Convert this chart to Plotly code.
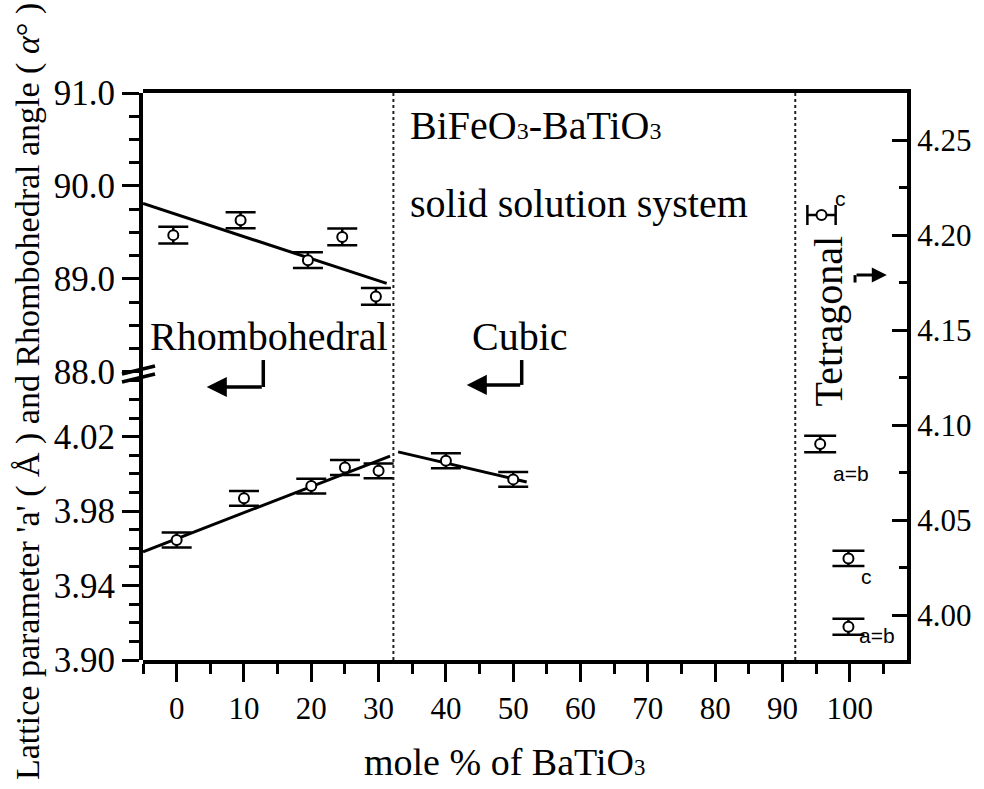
import plotly.graph_objects as go

SERIF = "Liberation Serif, Times New Roman, serif"
SANS = "Liberation Sans, Arial, sans-serif"

# ---- data ----
x_angle = [-0.5, 9.5, 19.5, 24.6, 29.6]
angle = [89.47, 89.63, 89.20, 89.45, 88.81]
angle_err = [0.09, 0.085, 0.085, 0.09, 0.09]

x_lat = [0, 10, 20, 25, 30, 40, 50]
lat = [3.9645, 3.9869, 3.9935, 4.0035, 4.0017, 4.0071, 3.9971]
lat_err = [0.004, 0.004, 0.004, 0.004, 0.004, 0.004, 0.004]

x_tet = [95.6, 99.8, 99.8]
tet = [4.090, 4.0298, 3.9938]
tet_err = [0.0044, 0.004, 0.0042]

x_tet_c = [95.8]
tet_c = [4.2105]
tet_c_xerr = [2.1]

fit_r_x = [-5, 31.2]
fit_r_y = [89.81, 88.95]
fit_a_x = [-5, 31.7]
fit_a_y = [3.9582, 4.0096]
fit_c_x = [32.9, 52.0]
fit_c_y = [4.0119, 3.9957]

phase_bounds = [32.2, 91.9]

x_ticks_major = 10

SUB3 = '<span style="font-size:60%">3</span>'

fig = go.Figure()

marker = dict(symbol="circle", size=10, color="white", line=dict(color="black", width=2))
ebar = dict(type="data", visible=True, color="black", thickness=2.5, width=15)

# fit lines
fig.add_trace(go.Scatter(x=fit_r_x, y=fit_r_y, mode="lines", line=dict(color="black", width=3),
                         xaxis="x", yaxis="y2"))
fig.add_trace(go.Scatter(x=fit_a_x, y=fit_a_y, mode="lines", line=dict(color="black", width=3),
                         xaxis="x", yaxis="y"))
fig.add_trace(go.Scatter(x=fit_c_x, y=fit_c_y, mode="lines", line=dict(color="black", width=3),
                         xaxis="x", yaxis="y"))

# data points
fig.add_trace(go.Scatter(x=x_angle, y=angle, mode="markers", marker=marker,
                         error_y=dict(ebar, array=angle_err), xaxis="x", yaxis="y2"))
fig.add_trace(go.Scatter(x=x_lat, y=lat, mode="markers", marker=marker,
                         error_y=dict(ebar, array=lat_err), xaxis="x", yaxis="y"))
fig.add_trace(go.Scatter(x=x_tet, y=tet, mode="markers", marker=marker,
                         error_y=dict(ebar, array=tet_err, width=16), xaxis="x", yaxis="y3"))
fig.add_trace(go.Scatter(x=x_tet_c, y=tet_c, mode="markers", marker=marker,
                         error_x=dict(ebar, array=tet_c_xerr, width=10), xaxis="x", yaxis="y3"))

# phase boundaries (dotted)
for xb in phase_bounds:
    fig.add_shape(type="line", xref="x", yref="paper", x0=xb, x1=xb, y0=0, y1=1,
                  line=dict(color="#222222", width=2, dash="dot"))

# axis break slashes on the left axis
for dy in (0.0, -0.0141):
    fig.add_shape(type="line", xref="paper", yref="paper",
                  x0=-0.0275, y0=0.5044 + dy, x1=0.0157, y1=0.5185 + dy,
                  line=dict(color="black", width=3.5))

# L-shaped arrows
for xv, xh, yt, yb in [(12.87, 4.46, 4.1342, 4.1200), (51.26, 43.09, 4.1342, 4.1211)]:
    fig.add_shape(type="line", xref="x", yref="y3", x0=xv, x1=xv, y0=yt, y1=yb,
                  line=dict(color="black", width=3.5))
    fig.add_annotation(x=xh, y=yb, xref="x", yref="y3", ax=xv, ay=yb, axref="x", ayref="y3",
                       showarrow=True, arrowhead=2, arrowwidth=3.5, arrowsize=1.15,
                       arrowcolor="black", text="")

# tetragonal arrow
fig.add_shape(type="line", xref="x", yref="y3", x0=100.78, x1=100.78, y0=4.1789, y1=4.1750,
              line=dict(color="black", width=3))
fig.add_annotation(x=105.5, y=4.1789, xref="x", yref="y3", ax=100.78, ay=4.1789, axref="x", ayref="y3",
                   showarrow=True, arrowhead=2, arrowwidth=3, arrowsize=1.0,
                   arrowcolor="black", text="")

texts = [
    ("BiFeO" + SUB3 + "-BaTiO" + SUB3, 34.4, 4.2575, 40, SERIF, "left", 0),
    ("solid solution system", 34.4, 4.2168, 40, SERIF, "left", 0),
    ("Rhombohedral", -4.25, 4.1468, 40, SERIF, "left", 0),
    ("Cubic", 43.6, 4.1468, 40, SERIF, "left", 0),
    ("Tetragonal", 96.9, 4.1545, 40, SERIF, "center", -90),
    ("c", 98.6, 4.2193, 21, SANS, "center", 0),
    ("a=b", 100.2, 4.0745, 21, SANS, "center", 0),
    ("c", 102.5, 4.0202, 21, SANS, "center", 0),
    ("a=b", 104.0, 3.9892, 21, SANS, "center", 0),
]
for t, xx, yy, fs, fam, xa, ang in texts:
    fig.add_annotation(x=xx, y=yy, xref="x", yref="y3", text=t, showarrow=False,
                       xanchor=xa, yanchor="middle", textangle=ang,
                       font=dict(size=fs, family=fam, color="black"))

# axis titles
fig.add_annotation(xref="paper", yref="paper", x=-0.1505, y=0.4727, textangle=-90,
                   text="Lattice parameter 'a' ( Å ) and Rhombohedral angle ( <i>α</i>° )",
                   showarrow=False, xanchor="center", yanchor="middle",
                   font=dict(size=34, family=SERIF, color="black"))
fig.add_annotation(xref="paper", yref="paper", x=0.4738, y=-0.1799,
                   text="mole % of BaTiO" + SUB3, showarrow=False,
                   xanchor="center", yanchor="middle",
                   font=dict(size=38, family=SERIF, color="black"))

axcommon = dict(showline=True, linewidth=4, linecolor="black", showgrid=False, zeroline=False,
                tickcolor="black", tickwidth=3)

fig.update_layout(
    width=984, height=789,
    margin=dict(l=143, r=77, t=93, b=129),
    paper_bgcolor="white", plot_bgcolor="rgba(0,0,0,0)",
    showlegend=False,
    font=dict(family=SERIF, color="black"),
    xaxis=dict(axcommon, range=[-5, 108.5], anchor="y3", mirror=True, ticks="outside", ticklen=18,
               tick0=0, dtick=x_ticks_major,
               minor=dict(dtick=5, tick0=0, ticks="outside", ticklen=10, tickwidth=3, tickcolor="black"),
               tickfont=dict(size=31, family=SERIF)),
    yaxis=dict(axcommon, domain=[0, 0.5085], range=[3.90, 4.055], anchor="x", ticks="outside", ticklen=17,
               tick0=3.90, dtick=0.04, tickformat=".2f",
               minor=dict(dtick=0.01, ticks="outside", ticklen=10, tickwidth=3, tickcolor="black"),
               tickfont=dict(size=35, family=SERIF)),
    yaxis2=dict(axcommon, domain=[0.5085, 1], range=[88.0, 91.0], anchor="x", ticks="outside", ticklen=17,
                tick0=88, dtick=1, tickformat=".1f",
                minor=dict(dtick=0.25, ticks="outside", ticklen=10, tickwidth=3, tickcolor="black"),
                tickfont=dict(size=35, family=SERIF)),
    yaxis3=dict(axcommon, domain=[0, 1], range=[3.97632, 4.27474], anchor="x", side="right",
                ticks="inside", ticklen=15, tick0=4.0, dtick=0.05, tickformat=".2f",
                minor=dict(dtick=0.025, ticks="inside", ticklen=8, tickwidth=3, tickcolor="black"),
                tickfont=dict(size=31, family=SERIF)),
)

fig.write_html("out.html")
